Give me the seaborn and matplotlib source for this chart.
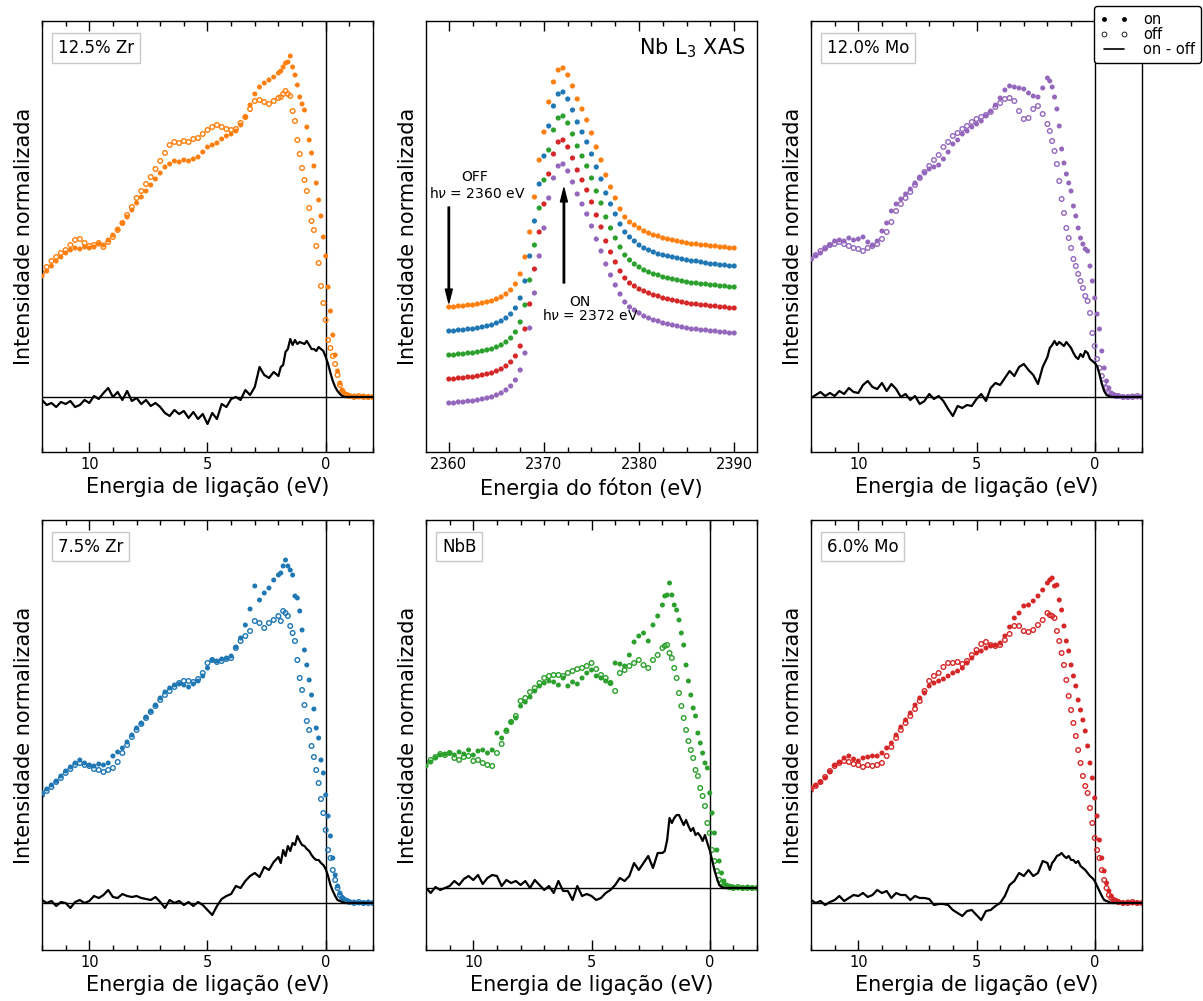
import numpy as np
import matplotlib
matplotlib.use("Agg")
import matplotlib.pyplot as plt
from matplotlib.lines import Line2D
from matplotlib.ticker import MultipleLocator
import seaborn as sns

sns.set_theme(style="ticks", rc={"axes.edgecolor": "black", "xtick.color": "black",
                                 "ytick.color": "black", "text.color": "black",
                                 "axes.labelcolor": "black"})
plt.rcParams["font.family"] = ["DejaVu Sans"]
plt.rcParams["mathtext.fontset"] = "dejavusans"

# ---------------- data ----------------
# binding-energy grid (eV)
BE = np.round(np.concatenate([np.linspace(12.0, 2.2, 50),
                              np.linspace(2.0, -0.9, 30),
                              np.linspace(-1.0, -2.0, 6)]), 2)

zr125_on = [1.21, 1.26, 1.31, 1.36, 1.40, 1.44, 1.47, 1.49, 1.48, 1.50,
            1.49, 1.50, 1.53, 1.52, 1.57, 1.62, 1.68, 1.74, 1.80, 1.87,
            1.94, 2.00, 2.06, 2.12, 2.18, 2.24, 2.30, 2.33, 2.36, 2.35,
            2.37, 2.36, 2.38, 2.40, 2.45, 2.50, 2.52, 2.54, 2.58, 2.61,
            2.63, 2.66, 2.72, 2.80, 2.92, 3.03, 3.10, 3.14, 3.17, 3.20,
            3.24, 3.26, 3.30, 3.34, 3.35, 3.41, 3.30, 3.22, 3.12, 3.00,
            2.93, 2.87, 2.70, 2.57, 2.44, 2.31, 2.14, 1.97, 1.81, 1.60,
            1.41, 1.10, 0.86, 0.62, 0.42, 0.26, 0.14, 0.07, 0.03, 0.02,
            0.01, 0.01, 0.00, 0.01, 0.00, 0.00]
zr125_off = [1.24, 1.30, 1.36, 1.40, 1.44, 1.47, 1.52, 1.57, 1.58, 1.54,
             1.51, 1.52, 1.54, 1.50, 1.55, 1.60, 1.67, 1.74, 1.82, 1.90,
             1.99, 2.06, 2.13, 2.20, 2.28, 2.36, 2.44, 2.52, 2.55, 2.54,
             2.56, 2.55, 2.58, 2.59, 2.63, 2.67, 2.70, 2.72, 2.70, 2.68,
             2.67, 2.68, 2.74, 2.80, 2.88, 2.96, 2.97, 2.95, 2.93, 2.96,
             2.99, 3.00, 3.03, 3.06, 3.03, 3.01, 2.86, 2.76, 2.57, 2.43,
             2.29, 2.17, 2.06, 1.89, 1.76, 1.67, 1.51, 1.34, 1.11, 0.94,
             0.77, 0.57, 0.49, 0.41, 0.33, 0.22, 0.12, 0.06, 0.03, 0.02,
             0.01, 0.00, 0.01, 0.00, 0.00, 0.00]
zr125_diff = [-0.03, -0.08, -0.06, -0.10, -0.05, -0.07, -0.04, -0.10, -0.08, -0.03,
              -0.06, 0.01, -0.02, 0.04, 0.09, 0.00, 0.05, -0.03, 0.06, -0.04,
              -0.01, -0.07, -0.03, -0.09, -0.06, -0.10, -0.16, -0.19, -0.13, -0.17,
              -0.14, -0.21, -0.15, -0.22, -0.17, -0.27, -0.16, -0.22, -0.07, -0.10,
              -0.02, 0.00, -0.03, 0.07, 0.02, 0.10, 0.30, 0.22, 0.19, 0.25,
              0.21, 0.30, 0.32, 0.45, 0.48, 0.58, 0.52, 0.57, 0.53, 0.55,
              0.54, 0.53, 0.56, 0.52, 0.48, 0.48, 0.46, 0.50, 0.48, 0.46,
              0.40, 0.33, 0.24, 0.16, 0.10, 0.06, 0.03, 0.01, 0.00, 0.00,
              0.00, 0.00, 0.00, 0.00, 0.00, 0.00]

mo120_on = [1.38, 1.41, 1.44, 1.48, 1.52, 1.56, 1.57, 1.56, 1.59, 1.57,
            1.58, 1.60, 1.55, 1.52, 1.56, 1.66, 1.74, 1.86, 1.93, 1.98,
            2.03, 2.08, 2.14, 2.20, 2.24, 2.28, 2.30, 2.32, 2.38, 2.45,
            2.53, 2.57, 2.63, 2.66, 2.70, 2.73, 2.76, 2.81, 2.86, 2.92,
            2.99, 3.07, 3.11, 3.10, 3.09, 3.08, 3.04, 3.01, 3.00, 3.09,
            3.19, 3.16, 3.10, 3.00, 2.88, 2.71, 2.48, 2.34, 2.23, 2.14,
            2.06, 1.91, 1.81, 1.69, 1.59, 1.53, 1.48, 1.46, 1.31, 1.16,
            0.99, 0.83, 0.68, 0.46, 0.29, 0.16, 0.09, 0.04, 0.02, 0.01,
            0.01, 0.00, 0.00, 0.01, 0.00, 0.00]
mo120_off = [1.38, 1.42, 1.46, 1.49, 1.52, 1.53, 1.55, 1.53, 1.51, 1.49,
             1.48, 1.46, 1.49, 1.51, 1.53, 1.58, 1.65, 1.75, 1.86, 1.93,
             1.99, 2.05, 2.12, 2.19, 2.25, 2.31, 2.37, 2.42, 2.50, 2.55,
             2.61, 2.64, 2.68, 2.71, 2.75, 2.78, 2.80, 2.82, 2.85, 2.90,
             2.94, 2.98, 2.99, 2.96, 2.86, 2.78, 2.79, 2.88, 2.91, 2.83,
             2.73, 2.66, 2.56, 2.46, 2.33, 2.16, 1.98, 1.84, 1.69, 1.59,
             1.49, 1.38, 1.31, 1.23, 1.16, 1.09, 1.01, 0.96, 0.84, 0.64,
             0.51, 0.38, 0.29, 0.21, 0.14, 0.09, 0.04, 0.03, 0.02, 0.01,
             0.01, 0.00, 0.00, 0.00, 0.01, 0.00]
mo120_diff = [-0.01, 0.02, 0.05, 0.01, 0.04, 0.01, 0.06, 0.03, 0.09, 0.05,
              0.04, 0.12, 0.16, 0.10, 0.08, 0.14, 0.06, 0.13, 0.08, 0.00,
              0.03, -0.03, 0.01, -0.07, -0.04, 0.03, -0.02, 0.01, -0.04, -0.12,
              -0.19, -0.09, -0.11, -0.08, -0.09, -0.02, 0.03, -0.04, 0.09, 0.14,
              0.12, 0.19, 0.26, 0.21, 0.30, 0.33, 0.27, 0.22, 0.13, 0.30,
              0.40, 0.49, 0.52, 0.56, 0.52, 0.55, 0.53, 0.51, 0.55, 0.52,
              0.49, 0.44, 0.40, 0.38, 0.43, 0.40, 0.46, 0.44, 0.38, 0.36,
              0.34, 0.31, 0.23, 0.13, 0.06, 0.02, 0.01, 0.00, 0.00, 0.00,
              0.00, 0.00, 0.00, 0.00, 0.00, 0.00]

zr75_on = [1.10, 1.14, 1.18, 1.22, 1.27, 1.32, 1.36, 1.40, 1.43, 1.40,
           1.38, 1.37, 1.39, 1.38, 1.40, 1.47, 1.51, 1.55, 1.61, 1.68,
           1.75, 1.80, 1.86, 1.92, 1.98, 2.05, 2.11, 2.15, 2.18, 2.19,
           2.18, 2.16, 2.19, 2.22, 2.27, 2.35, 2.43, 2.42, 2.44, 2.45,
           2.47, 2.56, 2.65, 2.78, 2.94, 3.17, 3.03, 3.10, 3.15, 3.23,
           3.28, 3.30, 3.37, 3.43, 3.37, 3.33, 3.28, 3.07, 3.05, 2.92,
           2.73, 2.53, 2.38, 2.23, 2.08, 1.94, 1.75, 1.65, 1.43, 1.30,
           1.08, 0.87, 0.67, 0.45, 0.28, 0.17, 0.10, 0.05, 0.03, 0.02,
           0.01, 0.01, 0.00, 0.00, 0.01, 0.00]
zr75_off = [1.08, 1.12, 1.16, 1.21, 1.25, 1.30, 1.34, 1.38, 1.40, 1.38,
            1.37, 1.34, 1.33, 1.31, 1.33, 1.35, 1.41, 1.50, 1.58, 1.66,
            1.73, 1.79, 1.85, 1.91, 1.97, 2.03, 2.08, 2.12, 2.16, 2.20,
            2.22, 2.22, 2.21, 2.24, 2.30, 2.40, 2.43, 2.41, 2.42, 2.44,
            2.45, 2.55, 2.62, 2.67, 2.72, 2.82, 2.80, 2.75, 2.80, 2.83,
            2.87, 2.82, 2.92, 2.90, 2.87, 2.77, 2.70, 2.62, 2.43, 2.25,
            2.13, 1.98, 1.82, 1.73, 1.57, 1.46, 1.33, 1.20, 1.04, 0.90,
            0.73, 0.53, 0.45, 0.33, 0.23, 0.15, 0.08, 0.05, 0.03, 0.02,
            0.01, 0.00, 0.01, 0.00, 0.00, 0.00]
zr75_diff = [0.03, 0.00, 0.02, -0.03, 0.01, 0.00, -0.05, 0.01, 0.03, 0.00,
             0.02, 0.07, 0.05, 0.08, 0.13, 0.06, 0.05, 0.09, 0.07, 0.06,
             0.07, 0.05, 0.04, 0.03, 0.06, 0.01, -0.05, 0.03, 0.00, 0.02,
             -0.02, 0.01, -0.03, 0.01, -0.02, -0.07, -0.12, -0.03, 0.04, 0.07,
             0.09, 0.17, 0.15, 0.22, 0.27, 0.30, 0.26, 0.36, 0.33, 0.41,
             0.46, 0.40, 0.53, 0.47, 0.57, 0.52, 0.60, 0.58, 0.67, 0.62,
             0.58, 0.57, 0.54, 0.52, 0.48, 0.45, 0.43, 0.43, 0.40, 0.38,
             0.34, 0.27, 0.18, 0.12, 0.07, 0.03, 0.02, 0.01, 0.00, 0.00,
             0.00, 0.00, 0.00, 0.00, 0.00, 0.00]

nbb_on = [1.22, 1.26, 1.30, 1.33, 1.34, 1.35, 1.33, 1.36, 1.34, 1.38,
          1.33, 1.37, 1.38, 1.35, 1.38, 1.55, 1.50, 1.58, 1.66, 1.70,
          1.82, 1.86, 1.91, 1.97, 2.02, 2.05, 2.07, 2.06, 2.03, 2.10,
          2.02, 2.06, 2.04, 2.10, 2.15, 2.18, 2.12, 2.10, 2.07, 2.05,
          2.25, 2.24, 2.22, 2.33, 2.46, 2.52, 2.55, 2.47, 2.63, 2.72,
          2.83, 2.92, 2.93, 3.05, 2.93, 2.83, 2.78, 2.68, 2.55, 2.43,
          2.23, 2.07, 1.93, 1.80, 1.72, 1.55, 1.45, 1.35, 1.25, 1.20,
          0.95, 0.75, 0.55, 0.38, 0.27, 0.15, 0.07, 0.03, 0.02, 0.01,
          0.01, 0.00, 0.00, 0.01, 0.00, 0.00]
nbb_off = [1.25, 1.28, 1.31, 1.34, 1.33, 1.35, 1.30, 1.28, 1.31, 1.32,
           1.27, 1.28, 1.25, 1.23, 1.22, 1.35, 1.44, 1.57, 1.66, 1.72,
           1.87, 1.90, 1.96, 2.00, 2.05, 2.10, 2.12, 2.13, 2.13, 2.12,
           2.15, 2.17, 2.19, 2.20, 2.22, 2.25, 2.19, 2.13, 2.10, 2.05,
           1.97, 2.15, 2.18, 2.22, 2.25, 2.28, 2.23, 2.20, 2.28, 2.33,
           2.40, 2.42, 2.43, 2.35, 2.30, 2.20, 2.10, 1.95, 1.82, 1.70,
           1.58, 1.47, 1.38, 1.30, 1.18, 1.12, 1.00, 0.92, 0.82, 0.65,
           0.55, 0.38, 0.27, 0.17, 0.08, 0.05, 0.03, 0.02, 0.01, 0.01,
           0.00, 0.01, 0.00, 0.00, 0.00, 0.00]
nbb_diff = [0.00, -0.05, 0.01, -0.02, 0.00, 0.02, 0.07, 0.03, 0.09, 0.12,
            0.08, 0.13, 0.04, 0.10, 0.13, 0.12, 0.02, 0.08, 0.05, 0.07,
            0.03, 0.07, 0.00, 0.08, 0.03, -0.02, 0.02, -0.05, 0.07, -0.03,
            -0.03, -0.12, 0.02, -0.08, -0.06, -0.08, -0.12, -0.10, -0.05, -0.02,
            0.03, 0.10, 0.07, 0.12, 0.25, 0.18, 0.25, 0.32, 0.20, 0.35,
            0.35, 0.37, 0.48, 0.70, 0.65, 0.70, 0.73, 0.73, 0.68, 0.63,
            0.68, 0.62, 0.57, 0.60, 0.53, 0.55, 0.52, 0.47, 0.53, 0.45,
            0.38, 0.28, 0.18, 0.10, 0.03, 0.01, 0.00, 0.00, 0.00, 0.00,
            0.00, 0.00, 0.00, 0.00, 0.00, 0.00]

mo60_on = [1.15, 1.18, 1.21, 1.25, 1.31, 1.38, 1.41, 1.45, 1.47, 1.44,
           1.42, 1.45, 1.46, 1.47, 1.47, 1.50, 1.55, 1.60, 1.68, 1.76,
           1.83, 1.90, 1.98, 2.05, 2.10, 2.17, 2.20, 2.22, 2.24, 2.27,
           2.30, 2.32, 2.35, 2.40, 2.45, 2.50, 2.52, 2.55, 2.57, 2.58,
           2.60, 2.67, 2.76, 2.85, 2.90, 2.97, 2.98, 3.02, 3.07, 3.13,
           3.20, 3.23, 3.25, 3.17, 3.18, 3.03, 2.93, 2.77, 2.62, 2.52,
           2.38, 2.27, 2.17, 2.03, 1.93, 1.83, 1.72, 1.57, 1.40, 1.25,
           1.05, 0.87, 0.63, 0.45, 0.32, 0.20, 0.12, 0.07, 0.03, 0.02,
           0.01, 0.00, 0.01, 0.00, 0.00, 0.00]
mo60_off = [1.13, 1.17, 1.21, 1.26, 1.32, 1.37, 1.40, 1.42, 1.41, 1.39,
            1.38, 1.36, 1.38, 1.37, 1.38, 1.40, 1.47, 1.56, 1.65, 1.73,
            1.80, 1.87, 1.94, 2.02, 2.12, 2.22, 2.27, 2.30, 2.36, 2.40,
            2.40, 2.41, 2.39, 2.42, 2.48, 2.53, 2.59, 2.61, 2.58, 2.57,
            2.58, 2.63, 2.69, 2.77, 2.77, 2.72, 2.71, 2.73, 2.78, 2.83,
            2.90, 2.88, 2.87, 2.85, 2.72, 2.62, 2.50, 2.38, 2.23, 2.07,
            1.93, 1.80, 1.67, 1.53, 1.40, 1.27, 1.17, 1.10, 0.95, 0.80,
            0.65, 0.53, 0.45, 0.33, 0.23, 0.15, 0.08, 0.05, 0.03, 0.02,
            0.01, 0.00, 0.00, 0.01, 0.00, 0.00]
mo60_diff = [0.03, 0.00, 0.02, -0.02, 0.01, 0.03, 0.07, 0.02, 0.05, 0.08,
             0.07, 0.10, 0.06, 0.08, 0.13, 0.10, 0.12, 0.05, 0.10, 0.08,
             0.08, 0.03, 0.07, 0.05, 0.05, 0.04, -0.02, -0.01, -0.01, -0.02,
             -0.07, -0.10, -0.13, -0.08, -0.07, -0.12, -0.17, -0.08, -0.07, -0.03,
             0.00, 0.07, 0.18, 0.22, 0.30, 0.27, 0.33, 0.27, 0.30, 0.42,
             0.40, 0.33, 0.40, 0.43, 0.47, 0.48, 0.50, 0.47, 0.45, 0.47,
             0.43, 0.43, 0.40, 0.42, 0.37, 0.35, 0.33, 0.30, 0.27, 0.25,
             0.22, 0.17, 0.12, 0.07, 0.03, 0.02, 0.01, 0.00, 0.00, 0.00,
             0.00, 0.00, 0.00, 0.00, 0.00, 0.00]

# Nb L3 XAS (photon energy grid, eV)
E_XAS = np.linspace(2360.0, 2390.0, 61)
xas_orange = [1.45, 1.45, 1.46, 1.46, 1.47, 1.47, 1.48, 1.49, 1.50, 1.51,
              1.53, 1.55, 1.58, 1.62, 1.68, 1.78, 1.95, 2.20, 2.55, 2.92,
              3.20, 3.50, 3.70, 3.82, 3.84, 3.77, 3.66, 3.53, 3.43, 3.32,
              3.19, 3.05, 2.92, 2.77, 2.65, 2.54, 2.43, 2.35, 2.30, 2.27,
              2.24, 2.21, 2.19, 2.17, 2.16, 2.14, 2.13, 2.12, 2.11, 2.10,
              2.09, 2.08, 2.08, 2.07, 2.07, 2.06, 2.06, 2.05, 2.05, 2.04,
              2.04]
xas_blue = [1.21, 1.21, 1.22, 1.22, 1.23, 1.23, 1.24, 1.25, 1.26, 1.27,
            1.29, 1.31, 1.34, 1.38, 1.44, 1.54, 1.71, 1.96, 2.31, 2.68,
            2.96, 3.26, 3.46, 3.58, 3.60, 3.53, 3.42, 3.30, 3.20, 3.10,
            2.98, 2.85, 2.73, 2.59, 2.48, 2.38, 2.28, 2.20, 2.15, 2.11,
            2.07, 2.04, 2.02, 2.00, 1.98, 1.97, 1.96, 1.95, 1.94, 1.93,
            1.92, 1.91, 1.91, 1.90, 1.89, 1.88, 1.88, 1.87, 1.87, 1.86,
            1.86]
xas_green = [0.97, 0.97, 0.98, 0.98, 0.99, 0.99, 1.00, 1.01, 1.02, 1.03,
             1.05, 1.07, 1.10, 1.14, 1.20, 1.30, 1.47, 1.72, 2.07, 2.44,
             2.72, 3.02, 3.22, 3.34, 3.36, 3.29, 3.18, 3.06, 2.96, 2.86,
             2.74, 2.61, 2.49, 2.35, 2.24, 2.14, 2.05, 1.97, 1.92, 1.88,
             1.85, 1.82, 1.80, 1.78, 1.77, 1.75, 1.74, 1.73, 1.72, 1.71,
             1.70, 1.69, 1.69, 1.68, 1.68, 1.67, 1.67, 1.66, 1.66, 1.65,
             1.65]
xas_red = [0.73, 0.73, 0.74, 0.74, 0.75, 0.75, 0.76, 0.77, 0.78, 0.79,
           0.81, 0.83, 0.86, 0.90, 0.96, 1.06, 1.23, 1.48, 1.83, 2.20,
           2.48, 2.78, 2.98, 3.10, 3.12, 3.05, 2.94, 2.82, 2.72, 2.62,
           2.50, 2.37, 2.25, 2.11, 2.00, 1.90, 1.81, 1.74, 1.69, 1.66,
           1.63, 1.61, 1.59, 1.57, 1.56, 1.54, 1.53, 1.52, 1.51, 1.50,
           1.49, 1.48, 1.48, 1.47, 1.47, 1.46, 1.46, 1.45, 1.45, 1.44,
           1.44]
xas_purple = [0.49, 0.49, 0.50, 0.50, 0.51, 0.51, 0.52, 0.53, 0.54, 0.55,
              0.57, 0.59, 0.62, 0.66, 0.72, 0.82, 0.99, 1.24, 1.59, 1.96,
              2.24, 2.54, 2.74, 2.86, 2.88, 2.81, 2.70, 2.58, 2.48, 2.38,
              2.26, 2.13, 2.01, 1.88, 1.77, 1.67, 1.58, 1.50, 1.45, 1.42,
              1.39, 1.36, 1.34, 1.32, 1.31, 1.29, 1.28, 1.27, 1.26, 1.25,
              1.24, 1.23, 1.23, 1.22, 1.22, 1.21, 1.21, 1.20, 1.20, 1.19,
              1.19]

C_ORANGE, C_BLUE, C_GREEN, C_RED, C_PURPLE = "#ff7f0e", "#1f77b4", "#2ca02c", "#d62728", "#9467bd"

# ---------------- figure ----------------
fig = plt.figure(figsize=(12.03, 10.01), dpi=100)
W, H = 1203.0, 1001.0
col_left = [42, 426, 811]
aw = 331
row_top = [(21, 452), (520, 950)]


def make_ax(col, row):
    l = col_left[col]
    t, b = row_top[row]
    return fig.add_axes([l / W, 1 - b / H, aw / W, (b - t) / H])


def style_x(ax, major, minor):
    ax.xaxis.set_major_locator(MultipleLocator(major))
    ax.xaxis.set_minor_locator(MultipleLocator(minor))
    ax.tick_params(axis="x", which="both", direction="in", top=True, bottom=True,
                   labelsize=10.5, width=1)
    ax.tick_params(axis="x", which="major", length=7)
    ax.tick_params(axis="x", which="minor", length=3.5)
    ax.set_yticks([])
    for s in ax.spines.values():
        s.set_linewidth(1.0)
        s.set_color("black")
    ax.set_ylabel("Intensidade normalizada", fontsize=15, labelpad=6)


def pes_panel(ax, name, color, on, off, diff, ylim):
    ax.axhline(0, color="black", lw=1.0, zorder=1)
    ax.axvline(0, color="black", lw=1.0, zorder=1)
    sns.scatterplot(x=BE, y=off, ax=ax, color=color, marker="o", s=11,
                    facecolor="none", edgecolor=color, linewidth=1.0, zorder=2)
    sns.scatterplot(x=BE, y=on, ax=ax, color=color, marker="o", s=13,
                    edgecolor="none", linewidth=0, zorder=3)
    sns.lineplot(x=BE, y=diff, ax=ax, color="black", lw=1.6, sort=False,
                 estimator=None, zorder=4)
    ax.set_xlim(12, -2)
    ax.set_ylim(*ylim)
    style_x(ax, 5, 1)
    ax.set_xlabel("Energia de ligação (eV)", fontsize=15)
    ax.text(0.048, 0.938, name, transform=ax.transAxes, fontsize=12,
            ha="left", va="center",
            bbox=dict(boxstyle="square,pad=0.35", fc="white", ec="#c8c8c8", lw=1))


pes_panel(make_ax(0, 0), "12.5% Zr", C_ORANGE, zr125_on, zr125_off, zr125_diff, (-0.55, 3.76))
pes_panel(make_ax(2, 0), "12.0% Mo", C_PURPLE, mo120_on, mo120_off, mo120_diff, (-0.55, 3.76))
pes_panel(make_ax(0, 1), "7.5% Zr", C_BLUE, zr75_on, zr75_off, zr75_diff, (-0.47, 3.83))
pes_panel(make_ax(1, 1), "NbB", C_GREEN, nbb_on, nbb_off, nbb_diff, (-0.62, 3.68))
pes_panel(make_ax(2, 1), "6.0% Mo", C_RED, mo60_on, mo60_off, mo60_diff, (-0.47, 3.83))

# XAS panel
ax = make_ax(1, 0)
for ys, c in [(xas_orange, C_ORANGE), (xas_blue, C_BLUE), (xas_green, C_GREEN),
              (xas_red, C_RED), (xas_purple, C_PURPLE)]:
    sns.scatterplot(x=E_XAS, y=ys, ax=ax, color=c, marker="o", s=14,
                    edgecolor="none", linewidth=0)
ax.set_xlim(2357.6, 2392.4)
ax.set_ylim(0, 4.31)
style_x(ax, 10, 2.5)
ax.set_xlabel("Energia do fóton (eV)", fontsize=15)
ax.text(0.964, 0.937, r"Nb L$_3$ XAS", transform=ax.transAxes, fontsize=15,
        ha="right", va="center")
arrow = dict(width=1.0, headwidth=5, headlength=10, color="black", shrink=0)
ax.annotate("", xy=(2360, 1.49), xytext=(2360, 2.45), arrowprops=arrow)
ax.annotate("", xy=(2372.1, 2.64), xytext=(2372.1, 1.69), arrowprops=arrow)
ax.text(2362.7, 2.75, "OFF", ha="center", va="center", fontsize=10)
ax.text(2363.0, 2.58, r"h$\nu$ = 2360 eV", ha="center", va="center", fontsize=10)
ax.text(2373.75, 1.50, "ON", ha="center", va="center", fontsize=10)
ax.text(2374.9, 1.37, r"h$\nu$ = 2372 eV", ha="center", va="center", fontsize=10)

# figure legend
handles = [Line2D([], [], ls="", marker="o", color="black", ms=3.5, mec="none"),
           Line2D([], [], ls="", marker="o", mfc="white", mec="black", mew=0.6, ms=3.5),
           Line2D([], [], color="black", lw=1.2)]
fig.legend(handles, ["on", "off", "on - off"], loc="upper right",
           bbox_to_anchor=(1201 / W, 1 - 6 / H), borderaxespad=0, numpoints=2,
           fontsize=10.5, frameon=True, fancybox=True, edgecolor="black", framealpha=1,
           borderpad=0.4, labelspacing=0.0, handlelength=2.0, handletextpad=1.0)

fig.savefig("out.png", dpi=100)
